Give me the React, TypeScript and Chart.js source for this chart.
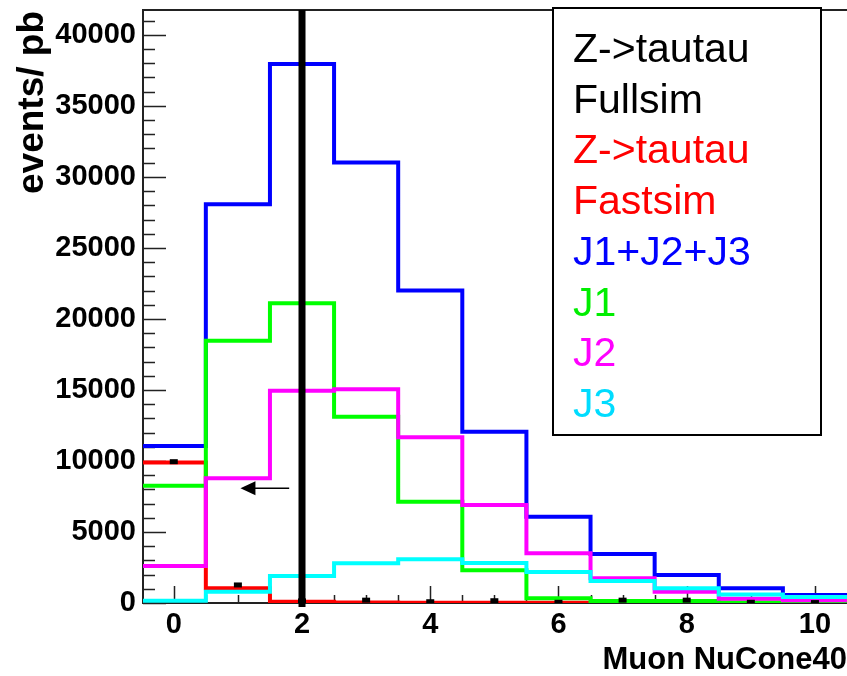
import React, { useEffect, useRef } from "react";
import { Chart, registerables } from "chart.js";

Chart.register(...registerables);

// Histogram bins (centres, unit width)
const binCenters = [0, 1, 2, 3, 4, 5, 6, 7, 8, 9, 10];
const binWidth = 1;

// events / pb per bin
const fullsimValues = [9950, 1270, 150, 200, 90, 160, 50, 200, 200, 50, 30];
const fastsimValues = [9900, 1030, 90, 30, 20, 20, 20, 20, 20, 10, 10];
const sumValues = [11060, 28070, 37950, 31010, 22000, 12060, 6080, 3450, 1970, 1030, 560];
const j1Values = [8260, 18470, 21100, 13120, 7130, 2300, 330, 140, 140, 40, 20];
const j2Values = [2600, 8780, 14950, 15050, 11670, 6900, 3500, 1740, 790, 300, 190];
const j3Values = [160, 800, 1900, 2800, 3080, 2820, 2180, 1550, 1030, 590, 420];

// Cut position and the arrow pointing to the accepted side
const cutValue = 2;
const arrowFrom = { x: 1.8, y: 8080 };
const arrowTo = { x: 1.04, y: 8080 };

// Legend entries (text only)
const legendLabels = ["Z->tautau", "Fullsim", "Z->tautau", "Fastsim", "J1+J2+J3", "J1", "J2", "J3"];
const legendColors = ["#000000", "#000000", "#ff0000", "#ff0000", "#0000ff", "#00ee00", "#ff00ff", "#00dcff"];

// Axis ranges and labelled ticks
const xMin = -0.48;
const xMax = 10.5;
const xTickLabels = [0, 2, 4, 6, 8, 10];
const xMinorStep = 0.5;
const yMin = 0;
const yMax = 41750;
const yTickLabels = [0, 5000, 10000, 15000, 20000, 25000, 30000, 35000, 40000];
const yMinorStep = 1000;

const xTitle = "Muon NuCone40";
const yTitle = "events/ pb";

const FONT = "'Liberation Sans', Arial, Helvetica, sans-serif";

function stepPoints(values: number[]) {
  const pts: { x: number; y: number }[] = [];
  binCenters.forEach((c, i) => {
    pts.push({ x: c - binWidth / 2, y: values[i] });
    pts.push({ x: c + binWidth / 2, y: values[i] });
  });
  return pts;
}

function histDataset(label: string, values: number[], color: string) {
  return {
    label,
    data: stepPoints(values),
    showLine: true,
    borderColor: color,
    backgroundColor: color,
    borderWidth: 4,
    borderJoinStyle: "miter" as const,
    borderCapStyle: "butt" as const,
    pointRadius: 0,
    tension: 0,
  };
}

const framePlugin = {
  id: "rootFrame",
  beforeDatasetsDraw(chart: any) {
    const { ctx, chartArea, scales } = chart;
    const xs = scales.x;
    const ys = scales.y;
    ctx.save();
    ctx.strokeStyle = "#222";
    ctx.lineWidth = 2;
    ctx.beginPath();
    ctx.moveTo(chartArea.right + 5, chartArea.top);
    ctx.lineTo(chartArea.left, chartArea.top);
    ctx.lineTo(chartArea.left, chartArea.bottom);
    ctx.lineTo(chartArea.right + 5, chartArea.bottom);
    ctx.stroke();

    ctx.lineWidth = 1.5;
    ctx.beginPath();
    // y ticks drawn inside the frame
    for (let v = yMin; v <= yMax + 1e-6; v += yMinorStep) {
      const py = Math.round(ys.getPixelForValue(v)) + 0.5;
      const major = yTickLabels.includes(v);
      const len = major ? 23 : 12;
      ctx.moveTo(chartArea.left, py);
      ctx.lineTo(chartArea.left + len, py);
    }
    // x ticks drawn inside the frame
    const start = Math.ceil(xMin / xMinorStep) * xMinorStep;
    for (let v = start; v <= xMax + 1e-6; v += xMinorStep) {
      const px = Math.round(xs.getPixelForValue(v)) + 0.5;
      const major = xTickLabels.some((t) => Math.abs(t - v) < 1e-6);
      const len = major ? 17 : 8;
      ctx.moveTo(px, chartArea.bottom);
      ctx.lineTo(px, chartArea.bottom - len);
    }
    ctx.stroke();
    ctx.restore();
  },
  afterDatasetsDraw(chart: any) {
    const { ctx, chartArea, scales } = chart;
    const xs = scales.x;
    const ys = scales.y;
    ctx.save();

    // cut line
    const cx = xs.getPixelForValue(cutValue);
    ctx.fillStyle = "#000";
    ctx.fillRect(cx - 3.5, chartArea.top, 7, chartArea.bottom - chartArea.top + 4);

    // arrow
    const ax0 = xs.getPixelForValue(arrowFrom.x);
    const ax1 = xs.getPixelForValue(arrowTo.x);
    const ay = ys.getPixelForValue(arrowFrom.y);
    ctx.strokeStyle = "#000";
    ctx.lineWidth = 1.5;
    ctx.beginPath();
    ctx.moveTo(ax0, ay);
    ctx.lineTo(ax1 + 10, ay);
    ctx.stroke();
    ctx.beginPath();
    ctx.moveTo(ax1, ay);
    ctx.lineTo(ax1 + 15, ay - 7);
    ctx.lineTo(ax1 + 15, ay + 7);
    ctx.closePath();
    ctx.fill();

    // legend box
    const lx = chartArea.left + 410;
    const ly = chartArea.top - 2;
    const lw = 268;
    const lh = 427;
    ctx.fillStyle = "#fff";
    ctx.fillRect(lx, ly, lw, lh);
    ctx.strokeStyle = "#000";
    ctx.lineWidth = 2;
    ctx.strokeRect(lx, ly, lw, lh);
    ctx.font = `41px ${FONT}`;
    ctx.textAlign = "left";
    ctx.textBaseline = "alphabetic";
    legendLabels.forEach((t, i) => {
      ctx.fillStyle = legendColors[i];
      ctx.fillText(t, lx + 20, ly + 54 + i * 50.7);
    });

    // axis titles
    ctx.fillStyle = "#000";
    ctx.font = `bold 31px ${FONT}`;
    ctx.textAlign = "right";
    ctx.fillText(xTitle, chart.width, 669);

    ctx.save();
    ctx.translate(43, 11);
    ctx.rotate(-Math.PI / 2);
    ctx.font = `bold 37px ${FONT}`;
    ctx.textAlign = "right";
    ctx.fillText(yTitle, 0, 0);
    ctx.restore();

    ctx.restore();
  },
};

export default function App() {
  const ref = useRef<HTMLCanvasElement>(null);

  useEffect(() => {
    if (!ref.current) return;
    const chart = new Chart(ref.current, {
      type: "scatter",
      data: {
        datasets: [
          {
            label: "Z->tautau Fullsim",
            data: binCenters.map((c, i) => ({ x: c, y: fullsimValues[i] })),
            showLine: false,
            pointStyle: "line",
            pointRadius: 4,
            pointBorderWidth: 5,
            borderColor: "#000",
            backgroundColor: "#000",
          },
          histDataset("J3", j3Values, "#00ffff"),
          histDataset("J2", j2Values, "#ff00ff"),
          histDataset("J1", j1Values, "#00ff00"),
          histDataset("Z->tautau Fastsim", fastsimValues, "#ff0000"),
          histDataset("J1+J2+J3", sumValues, "#0000ff"),
        ] as any,
      },
      options: {
        animation: false,
        responsive: false,
        devicePixelRatio: 1,
        layout: { autoPadding: false, padding: { top: 10, left: 0, right: 0, bottom: 0 } },
        plugins: {
          legend: { display: false },
          tooltip: { enabled: false },
        },
        scales: {
          x: {
            type: "linear",
            min: xMin,
            max: xMax,
            grid: { display: false, drawTicks: false },
            border: { display: false },
            afterBuildTicks: (s: any) => {
              s.ticks = xTickLabels.map((v) => ({ value: v }));
            },
            ticks: {
              color: "#000",
              padding: 5,
              maxRotation: 0,
              autoSkip: false,
              font: { family: FONT, size: 29, weight: "bold" },
              callback: (v: any) => String(v),
            },
            afterFit: (s: any) => {
              s.height = 73;
              s.paddingLeft = 0;
              s.paddingRight = 0;
            },
          },
          y: {
            type: "linear",
            min: yMin,
            max: yMax,
            grid: { display: false, drawTicks: false },
            border: { display: false },
            afterBuildTicks: (s: any) => {
              s.ticks = yTickLabels.map((v) => ({ value: v }));
            },
            ticks: {
              color: "#000",
              padding: 7,
              autoSkip: false,
              font: { family: FONT, size: 29, weight: "bold" },
              callback: (v: any) => String(v),
            },
            afterFit: (s: any) => {
              s.width = 143;
              s.paddingTop = 0;
              s.paddingBottom = 0;
            },
          },
        },
      } as any,
      plugins: [framePlugin],
    });
    return () => chart.destroy();
  }, []);

  return (
    <div style={{ position: "fixed", left: 0, top: 0, width: 847, height: 676, background: "#fff" }}>
      <canvas ref={ref} width={847} height={676} style={{ display: "block", width: 847, height: 676 }} />
    </div>
  );
}
